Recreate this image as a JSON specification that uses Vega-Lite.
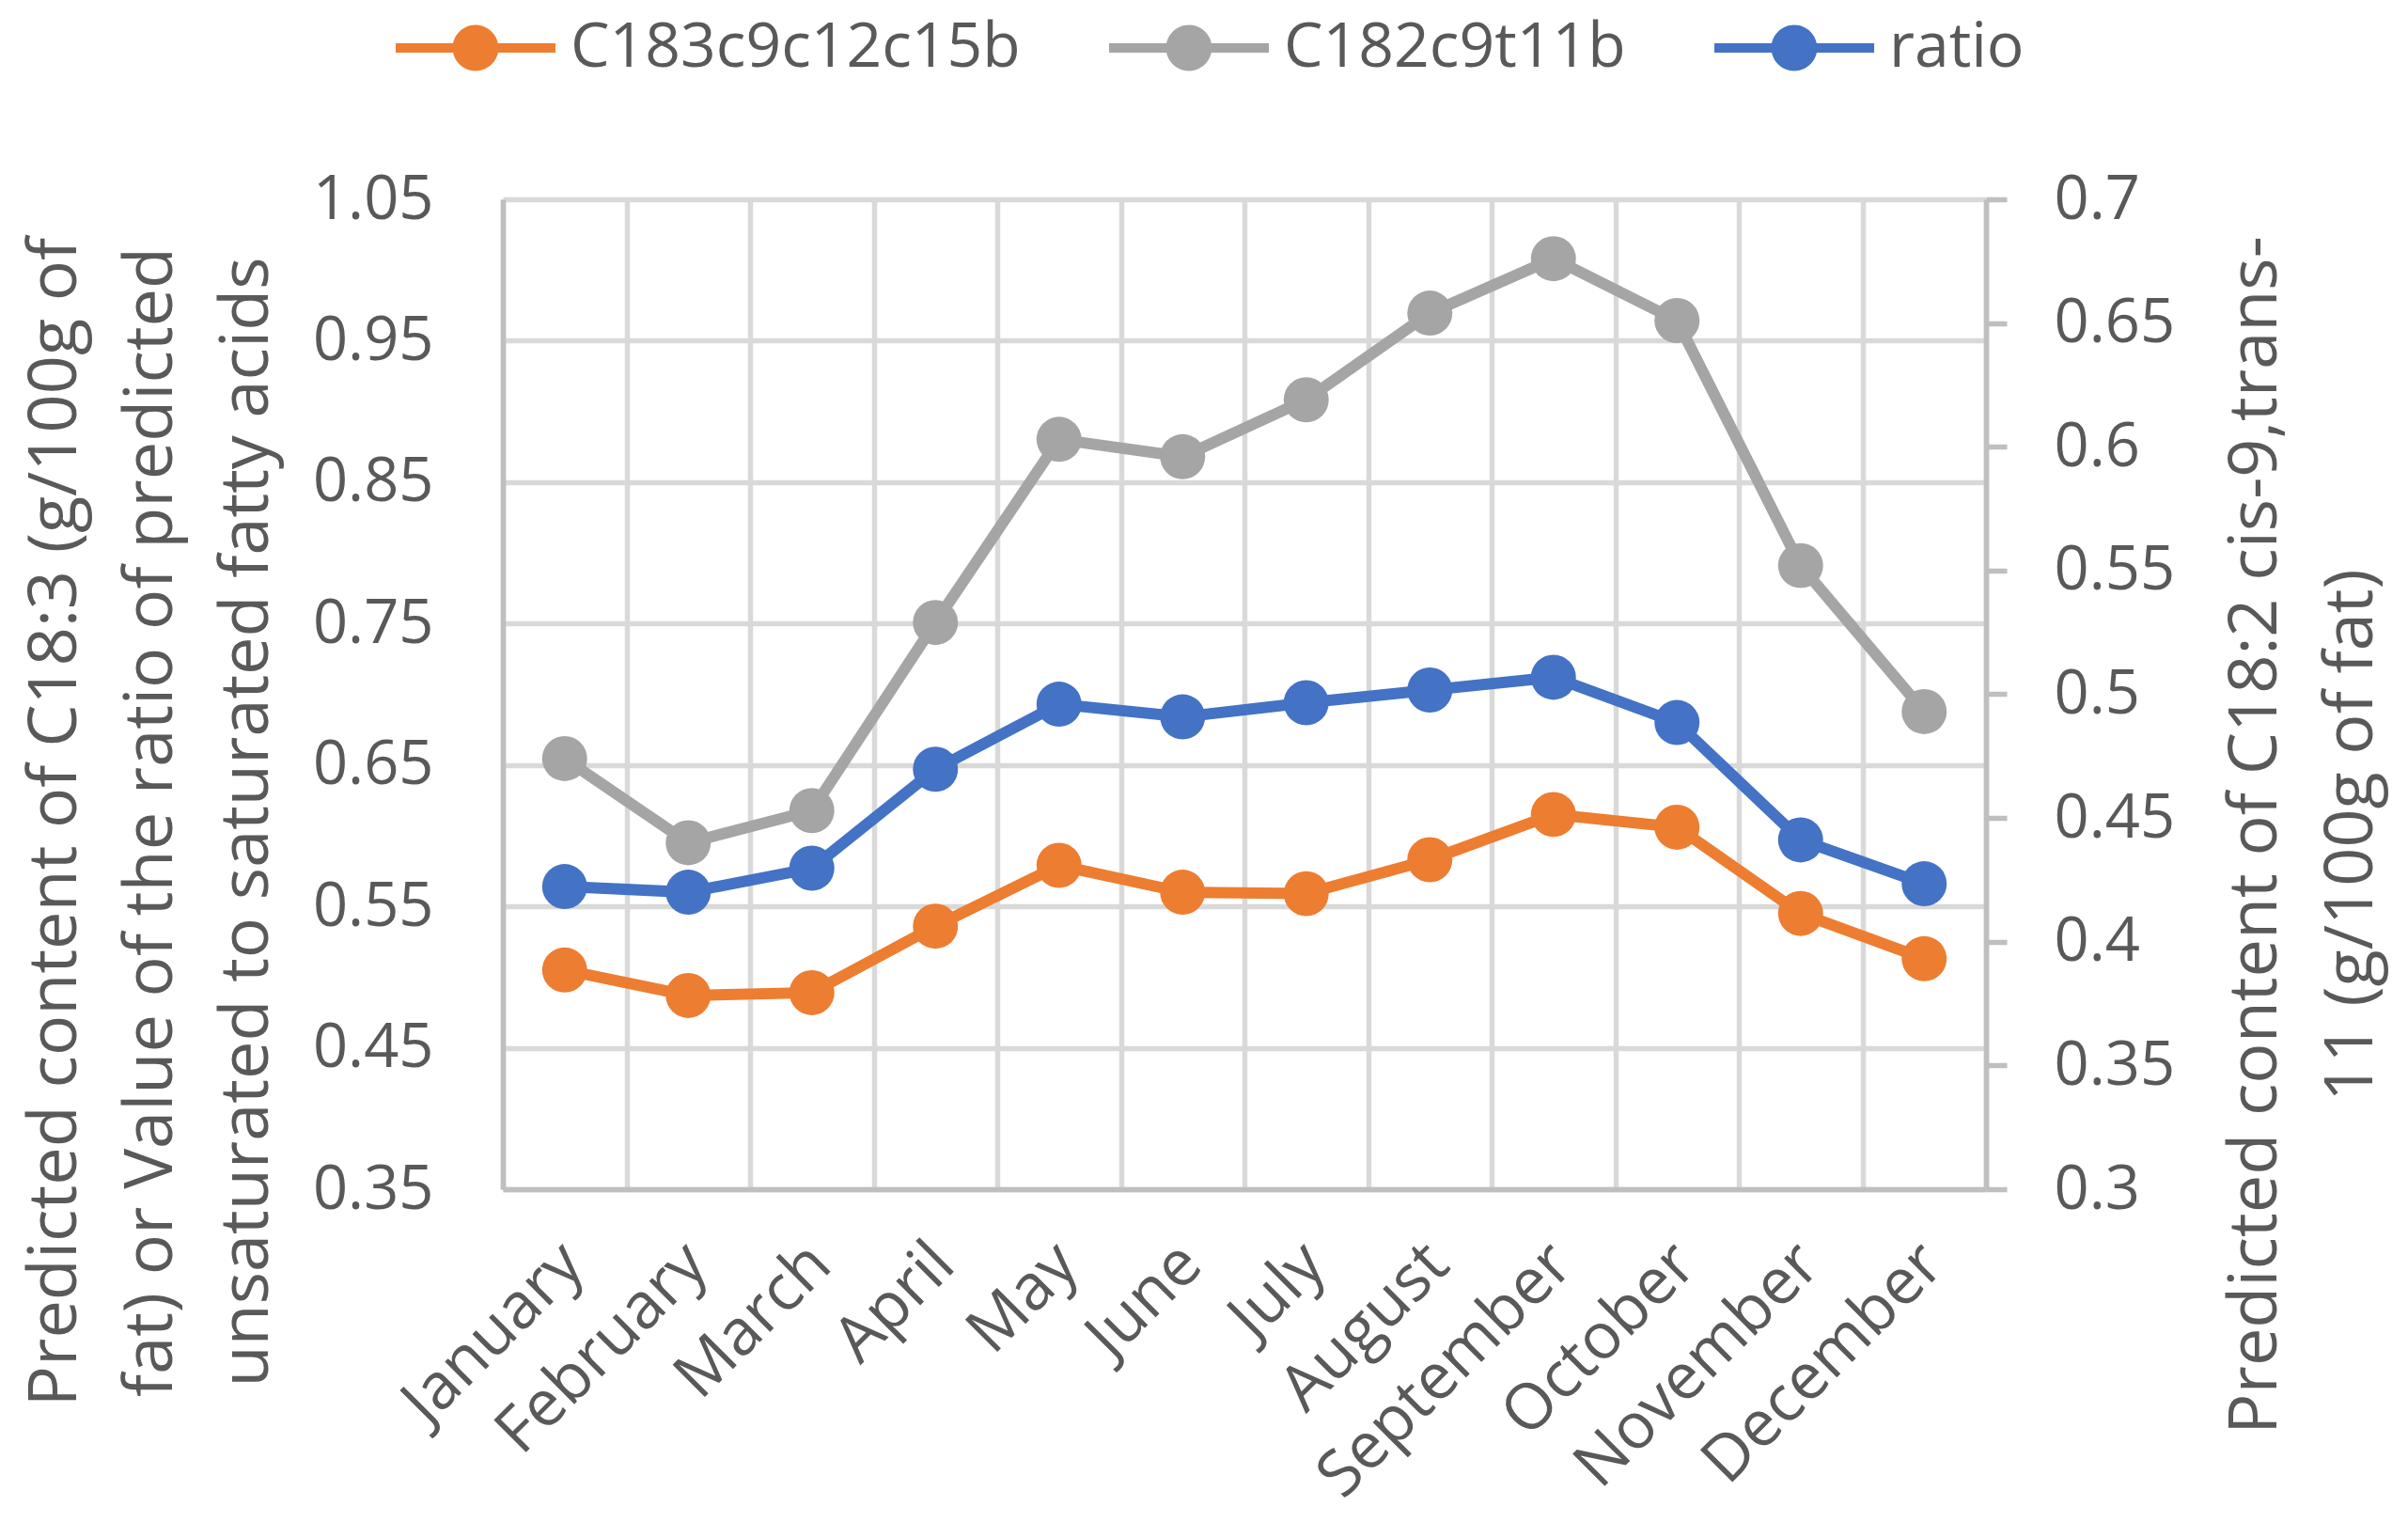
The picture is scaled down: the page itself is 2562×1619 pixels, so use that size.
{
  "$schema": "https://vega.github.io/schema/vega-lite/v6.json",
  "width": 1578,
  "height": 1053,
  "autosize": {"type": "none"},
  "padding": {"left": 535, "top": 212, "right": 449, "bottom": 354},
  "background": "white",
  "config": {
    "view": {"stroke": null},
    "font": "Open Sans"
  },
  "datasets": {
    "left": [
      {"month": "January", "series": "C183c9c12c15b", "value": 0.505},
      {"month": "February", "series": "C183c9c12c15b", "value": 0.487},
      {"month": "March", "series": "C183c9c12c15b", "value": 0.489},
      {"month": "April", "series": "C183c9c12c15b", "value": 0.536},
      {"month": "May", "series": "C183c9c12c15b", "value": 0.579},
      {"month": "June", "series": "C183c9c12c15b", "value": 0.560},
      {"month": "July", "series": "C183c9c12c15b", "value": 0.559},
      {"month": "August", "series": "C183c9c12c15b", "value": 0.583},
      {"month": "September", "series": "C183c9c12c15b", "value": 0.615},
      {"month": "October", "series": "C183c9c12c15b", "value": 0.606},
      {"month": "November", "series": "C183c9c12c15b", "value": 0.545},
      {"month": "December", "series": "C183c9c12c15b", "value": 0.513},
      {"month": "January", "series": "ratio", "value": 0.564},
      {"month": "February", "series": "ratio", "value": 0.560},
      {"month": "March", "series": "ratio", "value": 0.577},
      {"month": "April", "series": "ratio", "value": 0.647},
      {"month": "May", "series": "ratio", "value": 0.693},
      {"month": "June", "series": "ratio", "value": 0.684},
      {"month": "July", "series": "ratio", "value": 0.694},
      {"month": "August", "series": "ratio", "value": 0.703},
      {"month": "September", "series": "ratio", "value": 0.712},
      {"month": "October", "series": "ratio", "value": 0.680},
      {"month": "November", "series": "ratio", "value": 0.597},
      {"month": "December", "series": "ratio", "value": 0.566}
    ],
    "right": [
      {"month": "January", "series": "C182c9t11b", "value": 0.474},
      {"month": "February", "series": "C182c9t11b", "value": 0.440},
      {"month": "March", "series": "C182c9t11b", "value": 0.453},
      {"month": "April", "series": "C182c9t11b", "value": 0.529},
      {"month": "May", "series": "C182c9t11b", "value": 0.603},
      {"month": "June", "series": "C182c9t11b", "value": 0.596},
      {"month": "July", "series": "C182c9t11b", "value": 0.619},
      {"month": "August", "series": "C182c9t11b", "value": 0.654},
      {"month": "September", "series": "C182c9t11b", "value": 0.676},
      {"month": "October", "series": "C182c9t11b", "value": 0.651},
      {"month": "November", "series": "C182c9t11b", "value": 0.552},
      {"month": "December", "series": "C182c9t11b", "value": 0.493}
    ]
  },
  "layer": [
    {
      "data": {"name": "left"},
      "mark": {"type": "line", "strokeWidth": 12, "point": {"filled": true, "size": 2300, "opacity": 1}},
      "encoding": {
        "x": {
          "field": "month", "type": "ordinal",
          "sort": ["January","February","March","April","May","June","July","August","September","October","November","December"],
          "scale": {"type": "band", "paddingInner": 0, "paddingOuter": 0},
          "bandPosition": 0.5,
          "axis": {
            "title": null, "grid": true, "tickBand": "extent", "gridColor": "#D9D9D9", "gridWidth": 5.5,
            "ticks": false, "domainColor": "#BFBFBF", "domainWidth": 5.5,
            "labelAngle": -45, "labelFontSize": 68, "labelColor": "#595959", "labelPadding": 45,
            "labelOffset": -15, "labelLimit": 2000, "labelOverlap": false
          }
        },
        "y": {
          "field": "value", "type": "quantitative",
          "scale": {"domain": [0.35, 1.05], "nice": false, "zero": false},
          "axis": {
            "orient": "left",
            "values": [0.35, 0.45, 0.55, 0.65, 0.75, 0.85, 0.95, 1.05],
            "format": ".2f",
            "grid": true, "gridColor": "#D9D9D9", "gridWidth": 5.5,
            "ticks": false, "domainColor": "#BFBFBF", "domainWidth": 5.5,
            "labelFontSize": 65, "labelColor": "#595959", "labelPadding": 74,
            "title": ["Predicted content of C18:3 (g/100g of", "fat) or Value of the ratio of predicted", "unsaturated to saturated fatty acids"],
            "titleFontSize": 72, "titleFontWeight": "normal", "titleColor": "#595959",
            "titleLineHeight": 102, "titleAngle": -90, "titleBaseline": "middle", "titleAlign": "center",
            "titleX": -477, "titleY": 662
          }
        },
        "color": {
          "field": "series", "type": "nominal",
          "scale": {"domain": ["C183c9c12c15b", "C182c9t11b", "ratio"], "range": ["#ED7D31", "#A5A5A5", "#4472C4"]},
          "legend": {
            "orient": "none", "legendX": -69, "legendY": -201, "direction": "horizontal", "title": null,
            "symbolType": "M-2.125,-0.125H2.125V0.125H-2.125Z M0.61,0A0.61,0.61,0,1,1,-0.61,0A0.61,0.61,0,1,1,0.61,0Z",
            "symbolSize": 6400, "symbolStrokeWidth": 0, "labelFontSize": 66, "labelColor": "#595959",
            "labelOffset": 61, "columnPadding": 94, "padding": 0, "labelLimit": 2000,
            "encode": {"symbols": {"update": {"fill": {"scale": "color", "field": "value"}, "strokeWidth": {"value": 0}, "opacity": {"value": 1}}}}
          }
        }
      }
    },
    {
      "data": {"name": "right"},
      "mark": {"type": "line", "strokeWidth": 12, "point": {"filled": true, "size": 2300, "opacity": 1}},
      "encoding": {
        "x": {
          "field": "month", "type": "ordinal",
          "sort": ["January","February","March","April","May","June","July","August","September","October","November","December"],
          "scale": {"type": "band", "paddingInner": 0, "paddingOuter": 0},
          "bandPosition": 0.5
        },
        "y": {
          "field": "value", "type": "quantitative",
          "scale": {"domain": [0.3, 0.7], "nice": false, "zero": false},
          "axis": {
            "orient": "right",
            "values": [0.3, 0.35, 0.4, 0.45, 0.5, 0.55, 0.6, 0.65, 0.7],
            "format": "~g",
            "grid": false,
            "ticks": true, "tickSize": 22, "tickWidth": 5.5, "tickColor": "#BFBFBF",
            "domainColor": "#BFBFBF", "domainWidth": 5.5,
            "labelFontSize": 65, "labelColor": "#595959", "labelPadding": 50,
            "title": ["Predicted content of C18:2 cis-9,trans-", "11 (g/100g of fat)"],
            "titleFontSize": 72, "titleFontWeight": "normal", "titleColor": "#595959",
            "titleLineHeight": 102, "titleAngle": -90, "titleBaseline": "middle", "titleAlign": "center",
            "titleX": 286, "titleY": 676
          }
        },
        "color": {
          "field": "series", "type": "nominal",
          "scale": {"domain": ["C183c9c12c15b", "C182c9t11b", "ratio"], "range": ["#ED7D31", "#A5A5A5", "#4472C4"]},
          "legend": {
            "orient": "none", "legendX": -69, "legendY": -201, "direction": "horizontal", "title": null,
            "symbolType": "M-2.125,-0.125H2.125V0.125H-2.125Z M0.61,0A0.61,0.61,0,1,1,-0.61,0A0.61,0.61,0,1,1,0.61,0Z",
            "symbolSize": 6400, "symbolStrokeWidth": 0, "labelFontSize": 66, "labelColor": "#595959",
            "labelOffset": 61, "columnPadding": 94, "padding": 0, "labelLimit": 2000,
            "encode": {"symbols": {"update": {"fill": {"scale": "color", "field": "value"}, "strokeWidth": {"value": 0}, "opacity": {"value": 1}}}}
          }
        }
      }
    }
  ],
  "resolve": {"scale": {"y": "independent"}}
}
